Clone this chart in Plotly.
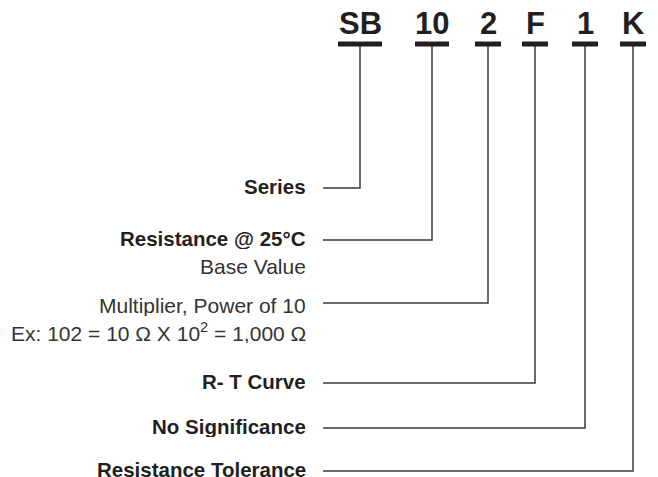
import plotly.graph_objects as go

# ---- content ----
codes = ["SB", "10", "2", "F", "1", "K"]
titles = ["Series", "Resistance @ 25°C", "Multiplier, Power of 10", "R- T Curve",
          "No Significance", "Resistance Tolerance"]
title_bold = [True, True, False, True, True, True]
notes = ["", "Base Value", "Ex: 102 = 10 \u03a9 X 10<sup>2</sup> = 1,000 \u03a9", "", "", ""]

# ---- layout constants ----
W, H = 658, 477
code_x = [360, 432, 488, 535, 585, 633]
code_half = [22, 17, 13, 13, 13, 13]
code_y = 23
bar_y = 44
line_y = [188, 240, 303, 383, 428, 471]
note_y = [None, 265.5, 331.5, None, None, None]
title_y = [186, 238, 304.5, 380.5, 426, 468.5]
line_x0 = 323
text_x = 308
FONT = "Liberation Sans, Arial, sans-serif"
INK = "#231f20"

fig = go.Figure()

for i, c in enumerate(codes):
    # underline bar
    fig.add_trace(go.Scatter(
        x=[code_x[i] - code_half[i], code_x[i] + code_half[i]], y=[bar_y, bar_y],
        mode="lines", line=dict(color=INK, width=5), hoverinfo="skip", showlegend=False))
    # leader line
    fig.add_trace(go.Scatter(
        x=[code_x[i], code_x[i], line_x0], y=[bar_y + 2, line_y[i], line_y[i]],
        mode="lines", line=dict(color="#3a3a3a", width=1.5), hoverinfo="skip", showlegend=False))
    fig.add_annotation(x=code_x[i], y=code_y, text="<b>%s</b>" % c, showarrow=False,
                       xanchor="center", yanchor="middle",
                       font=dict(family=FONT, size=31, color=INK))
    t = "<b>%s</b>" % titles[i] if title_bold[i] else titles[i]
    fig.add_annotation(x=text_x, y=title_y[i], text=t, showarrow=False,
                       xanchor="right", yanchor="middle", height=22,
                       font=dict(family=FONT, size=20.5 if title_bold[i] else 21,
                                 color=INK if title_bold[i] else "#333333"))
    if notes[i]:
        fig.add_annotation(x=text_x, y=note_y[i], text=notes[i], showarrow=False,
                           xanchor="right", yanchor="middle", height=22,
                           font=dict(family=FONT, size=21, color="#333333"))

fig.update_layout(
    width=W, height=H, margin=dict(l=0, r=0, t=0, b=0),
    paper_bgcolor="white", plot_bgcolor="white",
    xaxis=dict(range=[0, W], visible=False, fixedrange=True),
    yaxis=dict(range=[H, 0], visible=False, fixedrange=True),
)
fig.write_html("out.html", config={"displayModeBar": False},
               post_script="document.body.style.margin='0';document.body.style.overflow='hidden';")
